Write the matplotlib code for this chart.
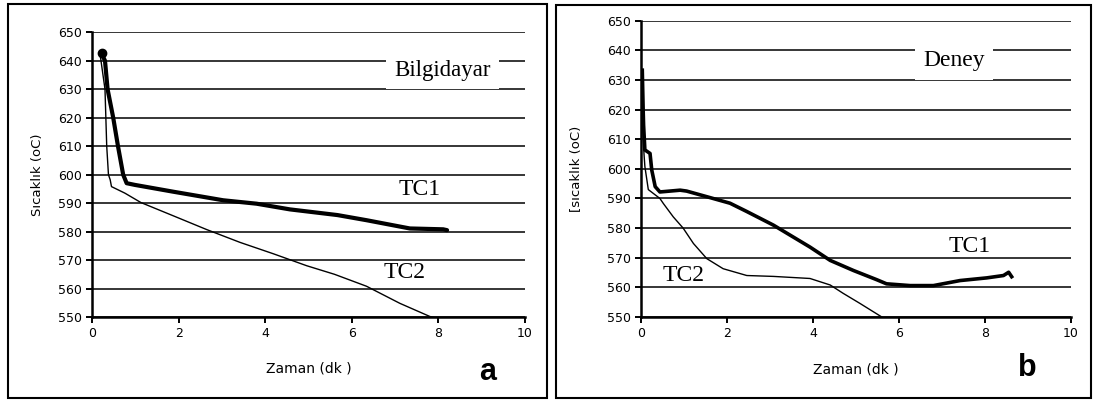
import matplotlib.pyplot as plt
from matplotlib.patches import Rectangle

plt.rcParams["font.family"] = "DejaVu Sans"

# ---------------- data ----------------
# panel a (Bilgidayar = computer model)
a_tc1_t = [0.22, 0.30, 0.36, 0.49, 0.60, 0.72, 0.80, 0.99, 1.88, 3.03, 3.80, 4.57, 5.67, 6.34, 7.34, 8.11, 8.20]
a_tc1_T = [642.6, 640, 630, 620, 610, 600, 597, 596.4, 594, 591, 589.8, 587.8, 585.8, 584.0, 581.1, 580.8, 580.5]

a_tc2_t = [0.18, 0.30, 0.32, 0.34, 0.38, 0.42, 0.45, 0.76, 1.13, 1.90, 2.65, 3.42, 4.19, 4.96, 5.60, 6.34, 7.11, 7.80, 7.95]
a_tc2_T = [643, 630, 620, 610, 600, 598.2, 595.8, 593.5, 590.2, 585.4, 580.7, 576.2, 572.2, 568.0, 565.0, 560.8, 554.8, 550.2, 549.5]

# panel b (Deney = experiment)
b_tc1_t = [0.03, 0.05, 0.06, 0.09, 0.21, 0.25, 0.33, 0.44, 0.91, 1.06, 1.53, 2.07, 2.46, 3.08, 3.93, 4.40,
           4.94, 5.48, 5.71, 6.26, 6.80, 7.42, 8.04, 8.43, 8.55, 8.62]
b_tc1_T = [633.3, 620, 614.8, 606.4, 605.2, 599.6, 594, 592.2, 592.8, 592.5, 590.6, 588.4, 585.6, 581, 573.6, 569.1,
           565.7, 562.6, 561.2, 560.6, 560.6, 562.3, 563.2, 564, 565.1, 563.6]

b_tc2_t = [0.04, 0.07, 0.09, 0.17, 0.44, 0.52, 0.75, 0.98, 1.22, 1.53, 1.91, 2.46, 3.08, 3.93, 4.40, 4.70, 5.09, 5.60]
b_tc2_T = [614.2, 605, 600.8, 593, 590, 588.3, 583.8, 580, 574.8, 569.7, 566.3, 564, 563.7, 563.0, 560.8, 558, 554.6, 550]

x_ticks = [0, 2, 4, 6, 8, 10]
y_ticks = list(range(550, 651, 10))

W, H = 1093, 401
fig = plt.figure(figsize=(W / 100, H / 100), dpi=100)
fig.patch.set_facecolor("white")

ax_a = fig.add_axes([92 / W, 1 - 317 / H, 433 / W, (317 - 32.3) / H])
ax_b = fig.add_axes([641 / W, 1 - 317 / H, 430 / W, (317 - 20.7) / H])


def style(ax, ylabel, ylab_x):
    ax.set_xlim(0, 10)
    ax.set_ylim(550, 650)
    ax.set_xticks(x_ticks)
    ax.set_yticks(y_ticks)
    ax.grid(axis="y", color="black", lw=1.1)
    ax.set_axisbelow(True)
    for s in ["top", "right"]:
        ax.spines[s].set_visible(False)
    for s in ["left", "bottom"]:
        ax.spines[s].set_linewidth(1.8)
    ax.tick_params(direction="out", length=4, width=1.4, labelsize=9, pad=3)
    ax.set_xlabel("Zaman (dk )", fontsize=10)
    ax.xaxis.set_label_coords(0.5, -0.155)
    ax.set_ylabel(ylabel, fontsize=9.5)
    ax.yaxis.set_label_coords(ylab_x, 0.5)


style(ax_a, "Sıcaklık (oC)", -0.11)
style(ax_b, "[sıcaklık (oC)", -0.135)

# panel a curves
ax_a.plot(a_tc2_t, a_tc2_T, color="black", lw=1.0, zorder=3)
ax_a.plot(a_tc1_t, a_tc1_T, color="black", lw=3.0, zorder=4, solid_capstyle="round")
ax_a.plot(a_tc1_t[:1], a_tc1_T[:1], "o", color="black", ms=6, zorder=5)

# panel b curves
ax_b.plot(b_tc2_t, b_tc2_T, color="black", lw=1.0, zorder=3)
ax_b.plot(b_tc1_t, b_tc1_T, color="black", lw=2.6, zorder=4)

serif = "Liberation Serif"
box = dict(boxstyle="square,pad=0.35", fc="white", ec="none")
ax_a.text(8.1, 636.5, "Bilgidayar", family=serif, fontsize=16.5, ha="center", va="center", bbox=box, zorder=6)
ax_a.text(7.56, 594.7, "TC1", family=serif, fontsize=17, ha="center", va="center", zorder=6)
ax_a.text(7.23, 565.6, "TC2", family=serif, fontsize=17, ha="center", va="center", zorder=6)

ax_b.text(7.28, 636.4, "Deney", family=serif, fontsize=17, ha="center", va="center", bbox=box, zorder=6)
ax_b.text(7.65, 573.9, "TC1", family=serif, fontsize=17, ha="center", va="center", zorder=6)
ax_b.text(0.99, 564.0, "TC2", family=serif, fontsize=17, ha="center", va="center", zorder=6)

fig.text(488 / W, 1 - 372 / H, "a", family="Liberation Sans", fontsize=22, fontweight="bold",
         ha="center", va="center")
fig.text(1027 / W, 1 - 368 / H, "b", family="Liberation Sans", fontsize=22, fontweight="bold",
         ha="center", va="center")

# outer frames around each panel
fig.add_artist(Rectangle((8 / W, 1 - 398 / H), (547 - 8) / W, (398 - 4) / H,
                         transform=fig.transFigure, fill=False, lw=1.5, ec="black"))
fig.add_artist(Rectangle((556 / W, 1 - 398 / H), (1091 - 556) / W, (398 - 5) / H,
                         transform=fig.transFigure, fill=False, lw=1.5, ec="black"))

fig.savefig("out.png", dpi=100)
